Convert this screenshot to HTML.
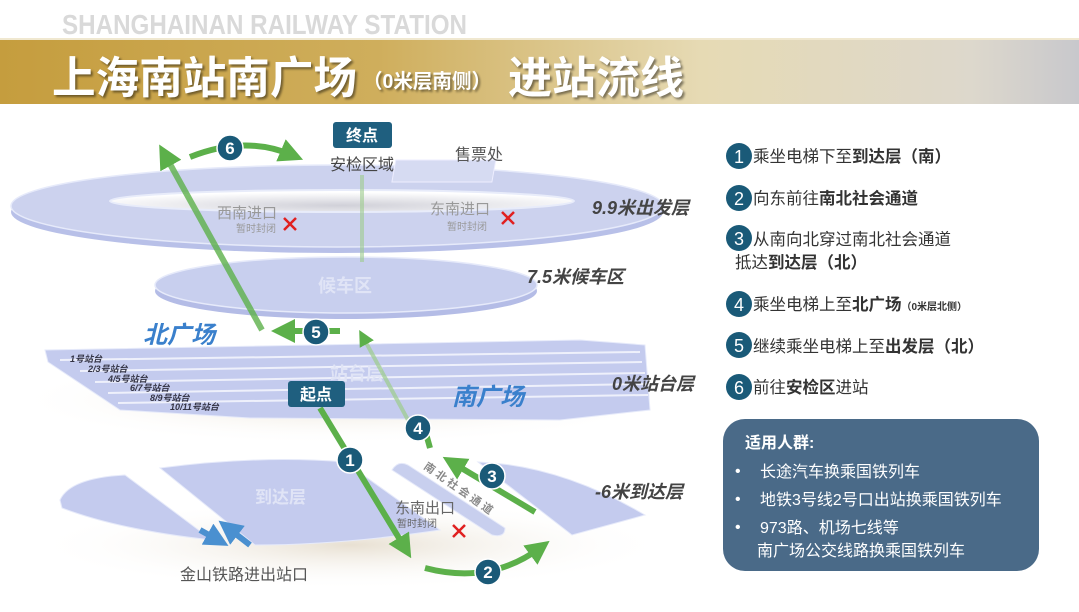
<!DOCTYPE html>
<html><head><meta charset="utf-8"><style>
body{margin:0;width:1079px;height:607px;overflow:hidden;background:#fff;font-family:"Liberation Sans","Noto Sans CJK SC",sans-serif;}
</style></head><body>
<svg width="1079" height="607" viewBox="0 0 1079 607" xmlns="http://www.w3.org/2000/svg" font-family="Liberation Sans, Noto Sans CJK SC, sans-serif">
<defs>
<linearGradient id="ban" x1="0" x2="1" y1="0" y2="0">
<stop offset="0" stop-color="#c59d3e"/><stop offset="0.35" stop-color="#cfae5c"/><stop offset="0.65" stop-color="#e6dab4"/><stop offset="0.9" stop-color="#ddd8cc"/><stop offset="1" stop-color="#c8c8cc"/>
</linearGradient>
<radialGradient id="sh" cx="0.5" cy="0.5" r="0.5"><stop offset="0" stop-color="#e8e0d2"/><stop offset="1" stop-color="#fff" stop-opacity="0"/></radialGradient>
<radialGradient id="hole" cx="0.5" cy="0.7" r="0.6"><stop offset="0" stop-color="#d0d0d8"/><stop offset="1" stop-color="#fff"/></radialGradient>
<marker id="ag" markerWidth="4" markerHeight="4" refX="2" refY="2" orient="auto" markerUnits="strokeWidth"><path d="M0,0 L4,2 L0,4 Z" fill="#5cb04a"/></marker>
<marker id="ab" markerWidth="4" markerHeight="4" refX="2" refY="2" orient="auto" markerUnits="strokeWidth"><path d="M0,0 L4,2 L0,4 Z" fill="#4a90d0"/></marker>
</defs>
<text x="62" y="34" font-size="28" font-weight="bold" fill="#d9d9d9" textLength="405" lengthAdjust="spacingAndGlyphs">SHANGHAINAN RAILWAY STATION</text>
<rect x="0" y="38" width="1079" height="66" fill="url(#ban)"/>
<rect x="0" y="38" width="1079" height="2" fill="#f0e8d0"/>
<g font-weight="bold" fill="#fff" style="filter:drop-shadow(2px 2px 1px rgba(0,0,0,.45))">
<text x="52" y="93" font-size="44" textLength="305" lengthAdjust="spacingAndGlyphs">上海南站南广场</text>
<text x="363" y="88" font-size="20" textLength="128" lengthAdjust="spacingAndGlyphs">（0米层南侧）</text>
<text x="508" y="93" font-size="44" textLength="176" lengthAdjust="spacingAndGlyphs">进站流线</text>
</g>
<!-- shadows -->
<ellipse cx="340" cy="400" rx="330" ry="45" fill="url(#sh)"/>
<ellipse cx="350" cy="545" rx="320" ry="45" fill="url(#sh)"/>
<!-- top ring -->
<ellipse cx="337" cy="212" rx="326" ry="41" fill="#b8c0e8"/>
<ellipse cx="337" cy="206" rx="326" ry="41" fill="#ccd2ee" stroke="#e6eafa" stroke-width="1.5"/>
<ellipse cx="342" cy="201" rx="232" ry="11" fill="url(#hole)" stroke="#e8ecfa" stroke-width="2"/>
<rect x="424" y="160" width="100" height="22" fill="#d6dbf2" stroke="#eef" transform="skewX(-10)"/>
<text x="455" y="160" font-size="16" fill="#555">售票处</text>
<!-- 7.5 ellipse -->
<ellipse cx="346" cy="291" rx="191" ry="28" fill="#b4bce6"/>
<ellipse cx="346" cy="285" rx="191" ry="28" fill="#c8cfee" stroke="#e6eafa" stroke-width="1.5"/>
<text x="318" y="292" font-size="18" font-weight="bold" fill="#e0e4f6">候车区</text>
<!-- platform layer -->
<polygon points="45,350 580,340 645,345 650,410 560,420 250,418 120,410 48,362" fill="#c4cbee" stroke="#e6eafa"/>
<g stroke="#eef0fb" stroke-width="2">
<line x1="60" y1="360" x2="640" y2="352"/><line x1="80" y1="371" x2="642" y2="362"/><line x1="95" y1="382" x2="645" y2="373"/><line x1="108" y1="393" x2="647" y2="384"/><line x1="118" y1="403" x2="648" y2="395"/>
</g>
<text x="330" y="380" font-size="18" font-weight="bold" fill="#e0e4f6">站台层</text>
<g font-size="9" font-style="italic" font-weight="bold" fill="#334">
<text x="70" y="362">1号站台</text><text x="88" y="372">2/3号站台</text><text x="108" y="382">4/5号站台</text><text x="130" y="391">6/7号站台</text><text x="150" y="401">8/9号站台</text><text x="170" y="410">10/11号站台</text>
</g>
<text x="143" y="343" font-size="24" font-style="italic" font-weight="bold" fill="#3a80cc">北广场</text>
<text x="452" y="405" font-size="24" font-style="italic" font-weight="bold" fill="#3a80cc">南广场</text>
<!-- bottom layer -->
<path d="M60,500 Q70,478 125,475 L212,540 Q120,530 62,508 Z" fill="#c4cbee" stroke="#e6eafa"/>
<path d="M160,468 Q260,455 345,462 L440,530 Q340,545 255,545 Z" fill="#c4cbee" stroke="#e6eafa"/>
<path d="M392,470 Q398,460 408,465 L505,528 Q505,538 492,535 Z" fill="#c8cfee" stroke="#e6eafa"/>
<path d="M478,462 Q560,465 645,515 L572,535 Z" fill="#c4cbee" stroke="#e6eafa"/>
<text x="255" y="503" font-size="17" font-weight="bold" fill="#e0e4f6">到达层</text>
<g font-size="11" fill="#888" font-weight="bold"><text x="423" y="468" transform="rotate(35 423 468)">南 北 社 会 通 道</text></g>
<!-- level labels -->
<g font-size="18" font-style="italic" font-weight="bold" fill="#444">
<text x="592" y="214">9.9米出发层</text><text x="527" y="283">7.5米候车区</text><text x="612" y="390">0米站台层</text><text x="595" y="498">-6米到达层</text>
</g>
<!-- gray labels -->
<text x="217" y="218" font-size="15" fill="#999">西南进口</text><text x="236" y="232" font-size="10" fill="#999">暂时封闭</text>
<text x="430" y="214" font-size="15" fill="#999">东南进口</text><text x="447" y="230" font-size="10" fill="#999">暂时封闭</text>
<text x="395" y="513" font-size="15" fill="#666">东南出口</text><text x="397" y="527" font-size="10" fill="#666">暂时封闭</text>
<text x="180" y="580" font-size="16" fill="#555">金山铁路进出站口</text>
<g stroke="#e02020" stroke-width="2.5"><path d="M284,218 l12,12 M296,218 l-12,12"/><path d="M502,212 l12,12 M514,212 l-12,12"/><path d="M453,525 l12,12 M465,525 l-12,12"/></g>
<!-- arrows -->
<g fill="none" stroke-width="6">
<path d="M190,157 Q245,135 292,155" stroke="#5cb04a" marker-end="url(#ag)"/>
<path d="M262,330 L165,155" stroke="#5cb04a" stroke-opacity="0.8" marker-end="url(#ag)"/>
<path d="M362,175 L362,262" stroke="#9ccc8c" stroke-opacity="0.6" stroke-width="4"/>
<path d="M340,331 L283,331" stroke="#5cb04a" marker-end="url(#ag)"/>
<path d="M408,420 L363,337" stroke="#9ccc8c" stroke-opacity="0.7" stroke-width="4" marker-end="url(#ag)"/>
<path d="M320,408 L405,548" stroke="#5cb04a" marker-end="url(#ag)"/>
<path d="M425,568 Q490,585 540,548" stroke="#5cb04a" marker-end="url(#ag)"/>
<path d="M535,512 L453,463" stroke="#5cb04a" marker-end="url(#ag)"/>
<path d="M425,430 L430,448" stroke="#5cb04a"/>
<path d="M200,530 L218,540" stroke="#4a90d0" marker-end="url(#ab)"/>
<path d="M250,545 L228,528" stroke="#4a90d0" marker-end="url(#ab)"/>
</g>
<g font-size="17" font-weight="bold" fill="#fff" text-anchor="middle">
<g fill="#1a5a78" stroke="#fff" stroke-width="1.5"><circle cx="230" cy="148" r="13"/><circle cx="316" cy="332" r="13"/><circle cx="418" cy="428" r="13"/><circle cx="350" cy="460" r="13"/><circle cx="492" cy="476" r="13"/><circle cx="488" cy="572" r="13"/></g>
<text x="230" y="154">6</text><text x="316" y="338">5</text><text x="418" y="434">4</text><text x="350" y="466">1</text><text x="492" y="482">3</text><text x="488" y="578">2</text>
</g>
<rect x="333" y="122" width="59" height="26" rx="3" fill="#1f5f7f"/>
<text x="362" y="141" font-size="16" font-weight="bold" fill="#fff" text-anchor="middle">终点</text>
<text x="362" y="170" font-size="16" fill="#444" text-anchor="middle">安检区域</text>
<rect x="288" y="381" width="57" height="26" rx="3" fill="#1f5f7f"/>
<text x="316" y="400" font-size="16" font-weight="bold" fill="#fff" text-anchor="middle">起点</text>
<!-- right panel -->
<g fill="#1a5a78"><circle cx="739" cy="156" r="13"/><circle cx="739" cy="198" r="13"/><circle cx="739" cy="238" r="13"/><circle cx="739" cy="304" r="13"/><circle cx="739" cy="345" r="13"/><circle cx="739" cy="387" r="13"/></g>
<g font-size="18" fill="#fff" text-anchor="middle"><text x="739" y="163">1</text><text x="739" y="205">2</text><text x="739" y="245">3</text><text x="739" y="311">4</text><text x="739" y="352">5</text><text x="739" y="394">6</text></g>
<g font-size="16.5" fill="#333">
<text x="753" y="162">乘坐电梯下至<tspan font-weight="bold">到达层（南）</tspan></text>
<text x="753" y="204">向东前往<tspan font-weight="bold">南北社会通道</tspan></text>
<text x="753" y="245">从南向北穿过南北社会通道</text>
<text x="735" y="268">抵达<tspan font-weight="bold">到达层（北）</tspan></text>
<text x="753" y="310">乘坐电梯上至<tspan font-weight="bold">北广场</tspan><tspan font-size="10" font-weight="bold">（0米层北侧）</tspan></text>
<text x="753" y="352">继续乘坐电梯上至<tspan font-weight="bold">出发层（北）</tspan></text>
<text x="753" y="393">前往<tspan font-weight="bold">安检区</tspan>进站</text>
</g>
<rect x="723" y="419" width="316" height="152" rx="22" fill="#4a6a88"/>
<g fill="#fff" font-size="16">
<text x="745" y="448" font-weight="bold">适用人群:</text>
<text x="735" y="476">•</text><text x="760" y="477">长途汽车换乘国铁列车</text>
<text x="735" y="504">•</text><text x="760" y="505">地铁3号线2号口出站换乘国铁列车</text>
<text x="735" y="532">•</text><text x="760" y="533">973路、机场七线等</text>
<text x="757" y="556">南广场公交线路换乘国铁列车</text>
</g>
</svg>
</body></html>
